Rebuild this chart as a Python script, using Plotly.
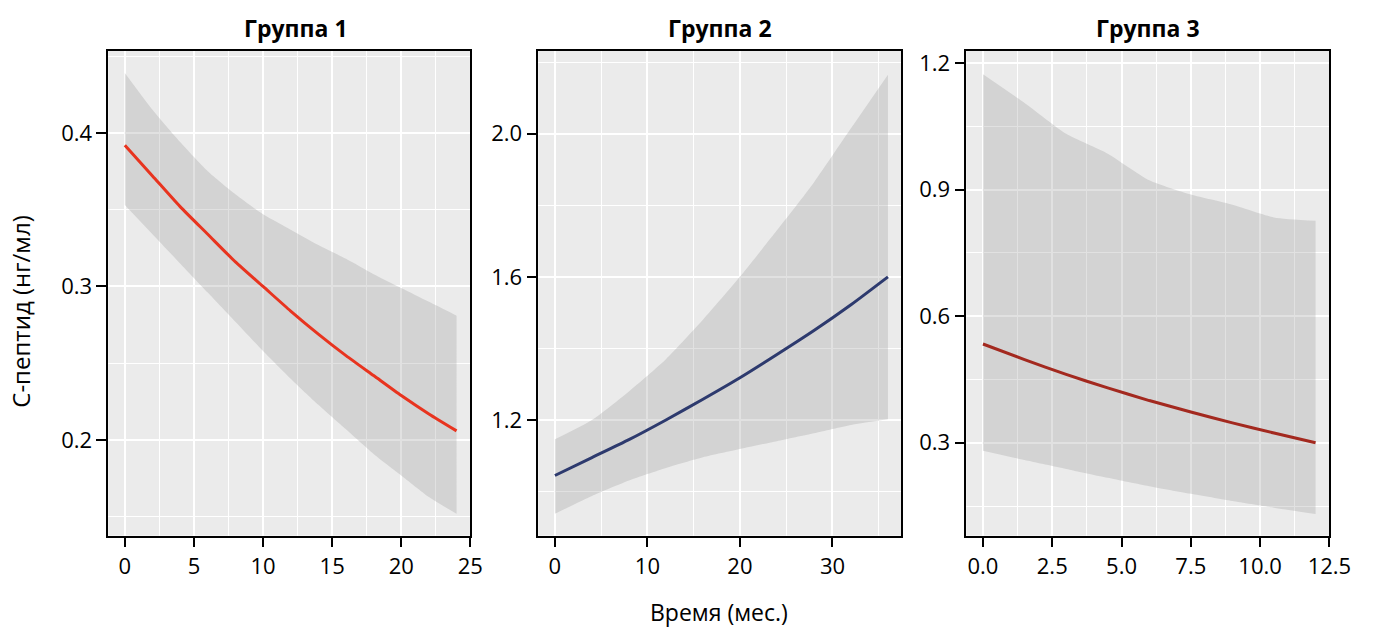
import plotly.graph_objects as go

# ---------------- data ----------------
titles = ["Группа 1", "Группа 2", "Группа 3"]
y_title = "С-пептид (нг/мл)"
x_title = "Время (мес.)"

# Group 1
g1_x = [0, 2, 4, 6, 8, 10, 12, 14, 16, 18, 20, 22, 24]
g1_fit = [0.392, 0.372, 0.352, 0.334, 0.316, 0.300, 0.284, 0.269, 0.255, 0.242, 0.229, 0.217, 0.206]
g1_lo = [0.353, 0.334, 0.315, 0.296, 0.277, 0.258, 0.240, 0.223, 0.207, 0.191, 0.177, 0.163, 0.152]
g1_hi = [0.439, 0.415, 0.394, 0.375, 0.360, 0.347, 0.337, 0.327, 0.318, 0.308, 0.299, 0.290, 0.281]

# Group 2
g2_x = [0, 4, 8, 12, 16, 20, 24, 28, 32, 36]
g2_fit = [1.045, 1.095, 1.145, 1.200, 1.258, 1.318, 1.383, 1.450, 1.522, 1.600]
g2_lo = [0.938, 0.988, 1.031, 1.066, 1.096, 1.119, 1.141, 1.163, 1.186, 1.202]
g2_hi = [1.146, 1.200, 1.280, 1.370, 1.480, 1.600, 1.730, 1.864, 2.015, 2.165]

# Group 3
g3_x = [0, 1.5, 3, 4.5, 6, 7.5, 9, 10.5, 12]
g3_fit = [0.534, 0.497, 0.462, 0.430, 0.400, 0.373, 0.347, 0.323, 0.300]
g3_lo = [0.281, 0.259, 0.238, 0.217, 0.197, 0.179, 0.162, 0.146, 0.131]
g3_hi = [1.173, 1.105, 1.032, 0.985, 0.922, 0.888, 0.864, 0.834, 0.826]

# axis extents as shown in the reference
x_ranges = [[-1.2, 25.0], [-1.8, 37.45], [-0.6, 12.5]]
y_ranges = [[0.1378, 0.4535], [0.877, 2.232], [0.080, 1.229]]

line_colors = ["#e8341f", "#2d3a6e", "#a3291f"]

# ---------------- figure ----------------
W, H = 1378, 630
FONT = "Open Sans"
fig = go.Figure()

panels = [
    (g1_x, g1_fit, g1_lo, g1_hi, dict(dtick=5, minor=2.5, fmt="d"), dict(dtick=0.1, minor=0.05)),
    (g2_x, g2_fit, g2_lo, g2_hi, dict(dtick=10, minor=5, fmt="d"), dict(dtick=0.4, minor=0.2)),
    (g3_x, g3_fit, g3_lo, g3_hi, dict(dtick=2.5, minor=1.25, fmt=".1f"), dict(dtick=0.3, minor=0.15)),
]
x_px = [(110, 478), (547, 916), (982, 1351)]
y_px = (47, 535)
title_cx = [301, 732, 1167]

for i, (xs, fit, lo, hi, xa, ya) in enumerate(panels):
    n = "" if i == 0 else str(i + 1)
    xref, yref = "x" + n, "y" + n
    fig.add_trace(go.Scatter(x=xs, y=lo, mode="lines", line=dict(width=0, shape="spline", smoothing=0.6),
                             xaxis=xref, yaxis=yref, showlegend=False, hoverinfo="skip"))
    fig.add_trace(go.Scatter(x=xs, y=hi, mode="lines", line=dict(width=0, shape="spline", smoothing=0.6),
                             fill="tonexty", fillcolor="rgba(153,153,153,0.29)",
                             xaxis=xref, yaxis=yref, showlegend=False, hoverinfo="skip"))
    fig.add_trace(go.Scatter(x=xs, y=fit, mode="lines",
                             line=dict(color=line_colors[i], width=3, shape="spline", smoothing=0.6),
                             xaxis=xref, yaxis=yref, showlegend=False))

    common = dict(showline=True, linecolor="black", linewidth=1.5, mirror=True,
                  ticks="outside", ticklen=10, tickwidth=1.5, tickcolor="black",
                  showgrid=True, gridcolor="white", gridwidth=1.8, zeroline=False,
                  tickfont=dict(family=FONT, size=22, color="black"))
    fig.layout["xaxis" + n] = dict(
        domain=[x_px[i][0] / W, x_px[i][1] / W], anchor=yref,
        range=x_ranges[i], tick0=0, dtick=xa["dtick"], tickformat=xa["fmt"],
        minor=dict(dtick=xa["minor"], tick0=0, showgrid=True, gridcolor="white", gridwidth=1.4),
        **common)
    fig.layout["yaxis" + n] = dict(
        domain=[1 - y_px[1] / H, 1 - y_px[0] / H], anchor=xref,
        range=y_ranges[i], tick0=0, dtick=ya["dtick"], tickformat=".1f",
        minor=dict(dtick=ya["minor"], tick0=0, showgrid=True, gridcolor="white", gridwidth=1.4),
        **common)

    fig.add_annotation(text="<b>" + titles[i] + "</b>", xref="paper", yref="paper",
                       x=title_cx[i] / W, y=1 - 24 / H, xanchor="center", yanchor="middle",
                       showarrow=False, font=dict(family=FONT, size=23, color="black"))

fig.add_annotation(text=y_title, xref="paper", yref="paper", x=20 / W, y=1 - 309 / H,
                   xanchor="center", yanchor="middle", textangle=-90, showarrow=False,
                   font=dict(family=FONT, size=24, color="black"))
fig.add_annotation(text=x_title, xref="paper", yref="paper", x=731 / W, y=0,
                   xanchor="center", yanchor="bottom", showarrow=False,
                   font=dict(family=FONT, size=23, color="black"))

fig.update_layout(width=W, height=H, margin=dict(l=0, r=0, t=0, b=0),
                  paper_bgcolor="white", plot_bgcolor="#ebebeb")

fig.write_html("out.html")
